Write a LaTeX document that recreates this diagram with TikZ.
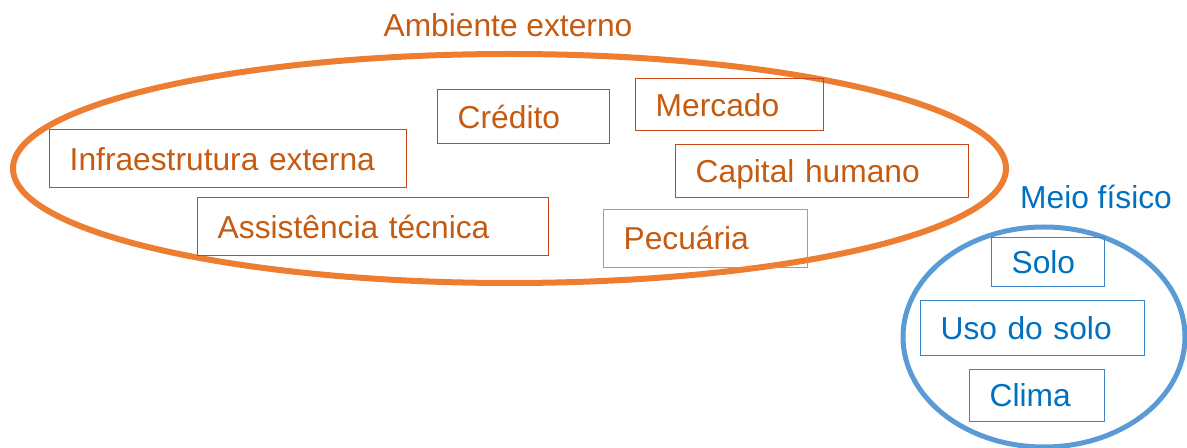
\documentclass[tikz,border=0pt]{standalone}
\usepackage{fontspec}
\setmainfont{Liberation Sans}
\usetikzlibrary{shapes.geometric}
\definecolor{orl}{HTML}{ED7D31}
\definecolor{ort}{HTML}{C55A11}
\definecolor{orb}{HTML}{C9451A}
\definecolor{orp}{HTML}{F0883E}
\definecolor{bll}{HTML}{5B9BD5}
\definecolor{blt}{HTML}{0070C0}
\definecolor{blb}{HTML}{3C84C8}
\tikzset{
  lbl/.style={font=\fontsize{23.8}{28}\selectfont, inner sep=0pt},
  box/.style={lbl, draw, rectangle, anchor=north west, align=left, inner xsep=15pt, inner ysep=0pt, text height=19pt, text depth=2pt},
  obox/.style={box, draw=orb, text=ort, line width=1.1pt},
  bbox/.style={box, draw=blb, text=blt, line width=0.9pt},
}
\begin{document}
\begin{tikzpicture}[x=0.75pt,y=-0.75pt]
\useasboundingbox (0,0) rectangle (1187,448);
\node[ellipse, draw=orl, line width=4.5pt, inner sep=0pt, minimum width=744.75pt, minimum height=171.75pt] (amb) at (509.5,168.5) {};
\node[ellipse, draw=bll, line width=3.75pt, inner sep=0pt, minimum width=211.5pt, minimum height=165pt] (meio) at (1044,337) {};
\node[lbl, text=ort] (tamb) at (508,25) {Ambiente externo};
\node[lbl, text=blt] (tmeio) at (1096,197) {Meio físico};
\node[obox, text width=237.75pt, minimum height=43.5pt] (infra) at (49,129) {Infraestrutura externa};
\node[obox, text width=99pt, minimum height=40.5pt] (cred) at (437,89) {Crédito};
\node[obox, text width=111pt, minimum height=39pt] (merc) at (635,78) {Mercado};
\node[obox, text width=189.75pt, minimum height=39.75pt] (cap) at (675,144) {Capital humano};
\node[obox, text width=233.25pt, minimum height=43.5pt] (assist) at (197,197) {Assistência técnica};
\node[obox, draw=orp, line width=0.9pt, text width=123pt, minimum height=43.5pt] (pec) at (603,209) {Pecuária};
\node[bbox, text width=54.75pt, minimum height=36.75pt] (solo) at (991,237) {Solo};
\node[bbox, text width=138pt, minimum height=41.25pt] (uso) at (920,300) {Uso do solo};
\node[bbox, text width=71.25pt, minimum height=39pt] (clima) at (969,369) {Clima};
\end{tikzpicture}
\end{document}
